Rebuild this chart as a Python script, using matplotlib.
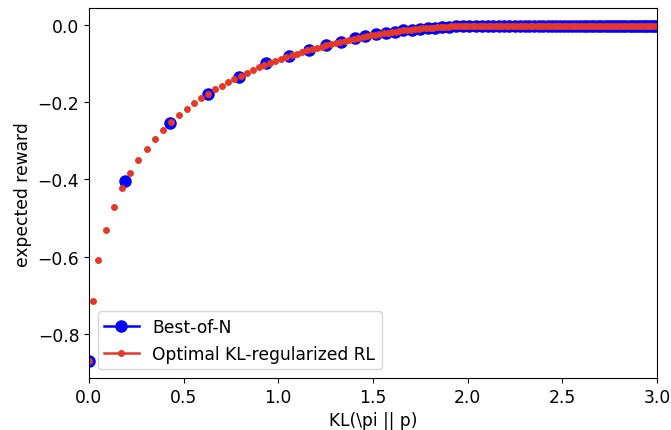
import matplotlib
matplotlib.use("Agg")
import matplotlib.pyplot as plt
from matplotlib.lines import Line2D

# Best-of-N: one point per N
bon_kl = [0.000, 0.192, 0.428, 0.627, 0.794, 0.935, 1.058, 1.164, 1.254, 1.330,
          1.407, 1.458, 1.516, 1.569, 1.616, 1.660, 1.705, 1.748, 1.789, 1.829,
          1.867, 1.904, 1.940, 1.975, 2.009, 2.042, 2.074, 2.105, 2.135, 2.164,
          2.193, 2.221, 2.248, 2.275, 2.301, 2.326, 2.351, 2.375, 2.399, 2.422,
          2.445, 2.467, 2.489, 2.510, 2.531, 2.552, 2.572, 2.592, 2.612, 2.631,
          2.650, 2.669, 2.687, 2.705, 2.723, 2.740, 2.757, 2.774, 2.791, 2.807,
          2.823, 2.839, 2.855, 2.870, 2.885, 2.900, 2.915, 2.930, 2.944, 2.958,
          2.972, 2.986, 3.000, 3.013]
bon_reward = [-0.871, -0.405, -0.254, -0.180, -0.135, -0.100, -0.081, -0.066, -0.054, -0.045,
              -0.036, -0.030, -0.025, -0.021, -0.018, -0.015, -0.013, -0.011, -0.010, -0.008,
              -0.007, -0.006, -0.005, -0.005, -0.004, -0.004, -0.004, -0.004, -0.003, -0.003,
              -0.003, -0.003, -0.003, -0.003, -0.003, -0.003, -0.003, -0.003, -0.003, -0.003,
              -0.003, -0.003, -0.003, -0.003, -0.003, -0.003, -0.003, -0.003, -0.003, -0.003,
              -0.003, -0.003, -0.003, -0.003, -0.003, -0.003, -0.003, -0.003, -0.003, -0.003,
              -0.003, -0.003, -0.003, -0.003, -0.003, -0.003, -0.003, -0.003, -0.003, -0.003,
              -0.003, -0.003, -0.003, -0.003]

# Optimal KL-regularized RL: sweep of the regularization strength
rl_kl = [0.000, 0.020, 0.049, 0.088, 0.130, 0.173, 0.217, 0.260, 0.305, 0.347,
         0.389, 0.432, 0.475, 0.516, 0.556, 0.593, 0.630, 0.666, 0.701, 0.736,
         0.768, 0.801, 0.833, 0.865, 0.896, 0.926, 0.956, 0.985, 1.014, 1.042,
         1.070, 1.097, 1.124, 1.151, 1.177, 1.203, 1.229, 1.254, 1.279, 1.304,
         1.328, 1.352, 1.376, 1.399, 1.422, 1.445, 1.468, 1.490, 1.512, 1.534,
         1.556, 1.577, 1.598, 1.619, 1.640, 1.661, 1.681, 1.701, 1.721, 1.741,
         1.761, 1.781, 1.800, 1.819, 1.838, 1.857, 1.876, 1.895, 1.914, 1.932,
         1.950, 1.968, 1.986, 2.004, 2.022, 2.040, 2.058, 2.076, 2.094, 2.112,
         2.130, 2.148, 2.166, 2.184, 2.202, 2.220, 2.238, 2.256, 2.274, 2.292,
         2.310, 2.328, 2.346, 2.364, 2.382, 2.400, 2.418, 2.436, 2.454, 2.472,
         2.490, 2.508, 2.526, 2.544, 2.562, 2.580, 2.598, 2.616, 2.634, 2.652,
         2.670, 2.688, 2.706, 2.724, 2.742, 2.760, 2.778, 2.796, 2.814, 2.832,
         2.850, 2.868, 2.886, 2.904, 2.922, 2.940, 2.958, 2.976, 2.994, 3.012]
rl_reward = [-0.870, -0.716, -0.610, -0.532, -0.472, -0.423, -0.384, -0.351, -0.321, -0.295,
             -0.272, -0.253, -0.235, -0.218, -0.204, -0.191, -0.180, -0.167, -0.158, -0.148,
             -0.140, -0.133, -0.126, -0.117, -0.111, -0.105, -0.099, -0.094, -0.089, -0.084,
             -0.079, -0.075, -0.071, -0.067, -0.064, -0.060, -0.057, -0.054, -0.051, -0.048,
             -0.045, -0.043, -0.040, -0.037, -0.035, -0.032, -0.030, -0.028, -0.026, -0.024,
             -0.022, -0.021, -0.019, -0.018, -0.016, -0.015, -0.014, -0.013, -0.012, -0.011,
             -0.010, -0.009, -0.009, -0.008, -0.007, -0.007, -0.006, -0.006, -0.005, -0.005,
             -0.005, -0.004, -0.004, -0.004, -0.003, -0.003, -0.003, -0.003, -0.003, -0.003,
             -0.003, -0.003, -0.003, -0.003, -0.003, -0.003, -0.003, -0.003, -0.003, -0.003,
             -0.003, -0.003, -0.003, -0.003, -0.003, -0.003, -0.003, -0.003, -0.003, -0.003,
             -0.003, -0.003, -0.003, -0.003, -0.003, -0.003, -0.003, -0.003, -0.003, -0.003,
             -0.003, -0.003, -0.003, -0.003, -0.003, -0.003, -0.003, -0.003, -0.003, -0.003,
             -0.003, -0.003, -0.003, -0.003, -0.003, -0.003, -0.003, -0.003, -0.003, -0.003]

x_ticks = [0.0, 0.5, 1.0, 1.5, 2.0, 2.5, 3.0]
y_ticks = [-0.8, -0.6, -0.4, -0.2, 0.0]

BLUE = "#0000ff"
RED = "#e5382a"

plt.rcParams["font.size"] = 12.3

fig = plt.figure(figsize=(6.71, 4.31), dpi=100)
ax = fig.add_axes([0.1326, 0.1206, 0.8465, 0.8578])

ax.plot(bon_kl, bon_reward, "o", color=BLUE, markersize=8, linestyle="none")
ax.plot(rl_kl, rl_reward, "o", color=RED, markersize=5, markeredgewidth=0, linestyle="none")

ax.set_xlim(0, 3.0)
ax.set_ylim(-0.914, 0.042)
ax.set_xticks(x_ticks)
ax.set_yticks(y_ticks)
ax.set_xlabel("KL(\\pi || p)")
ax.set_ylabel("expected reward")

handles = [
    Line2D([], [], color=BLUE, marker="o", markersize=8, linewidth=1.8),
    Line2D([], [], color=RED, marker="o", markersize=5, markeredgewidth=0, linewidth=1.8),
]
ax.legend(handles, ["Best-of-N", "Optimal KL-regularized RL"], loc="lower left")

fig.savefig("out.png", dpi=100)
